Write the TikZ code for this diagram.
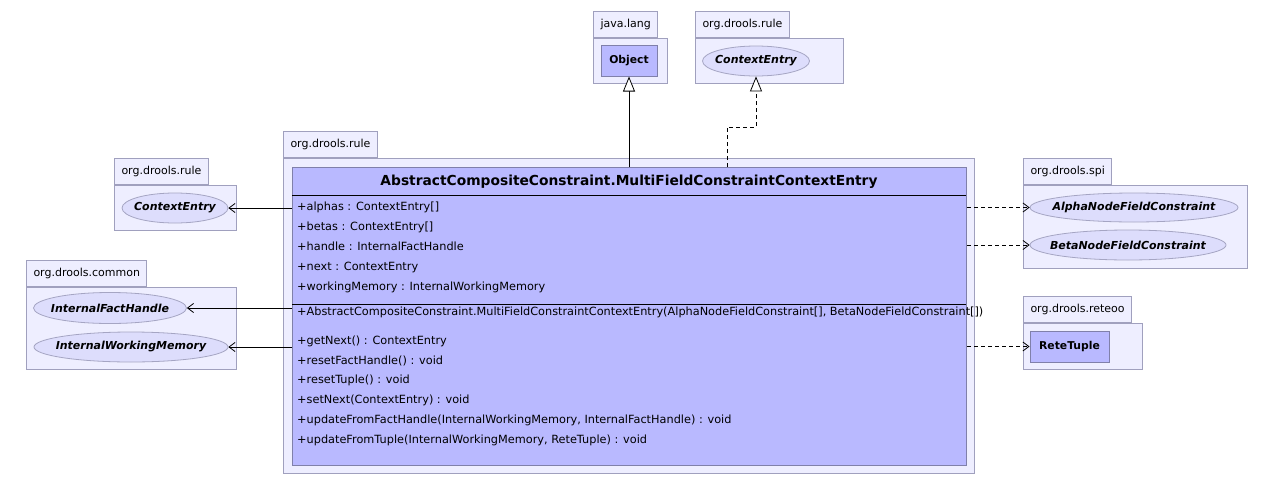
\documentclass[tikz,border=0pt]{standalone}
\usepackage{fontspec}
\setmainfont{DejaVu Sans}
\usetikzlibrary{arrows.meta,shapes.geometric}
\definecolor{pkgfill}{RGB}{238,238,255}
\definecolor{pkgdraw}{RGB}{160,160,190}
\definecolor{clsfill}{RGB}{185,185,255}
\definecolor{clsdraw}{RGB}{128,128,170}
\definecolor{ellfill}{RGB}{221,221,252}
\definecolor{elldraw}{RGB}{165,165,195}
\begin{document}
\begin{tikzpicture}[x=1pt,y=-1pt,
  pkgbody/.style={draw=pkgdraw, fill=pkgfill, line width=1pt, anchor=north west, inner sep=0pt},
  pkgtab/.style={draw=pkgdraw, fill=pkgfill, line width=1pt, anchor=south west, inner xsep=7pt, inner ysep=0pt,
    minimum height=26pt, text height=8pt, text depth=2.5pt, font=\fontsize{11}{13}\selectfont},
  clsbox/.style={draw=clsdraw, fill=clsfill, line width=1pt, anchor=north west, inner sep=0pt},
  smallcls/.style={draw=clsdraw, fill=clsfill, line width=1pt, inner sep=0pt, font=\fontsize{10.8}{12}\bfseries\selectfont},
  ellnode/.style={ellipse, draw=elldraw, fill=ellfill, line width=0.8pt, inner xsep=-30pt, inner ysep=0pt,
    minimum height=30pt, font=\fontsize{11}{12}\bfseries\itshape\selectfont},
  member/.style={anchor=west, inner sep=0pt, text height=8pt, text depth=2.5pt, font=\fontsize{11.3}{13}\selectfont},
  nav/.style={line width=0.8pt, -{Straight Barb[length=6pt, width=9pt, line width=0.8pt]}},
  dep/.style={nav, dash pattern=on 4pt off 3pt},
  gen/.style={line width=0.8pt, -{Triangle[open, length=15pt, width=12pt, fill=white, line width=0.8pt]}},
  real/.style={gen, dash pattern=on 4pt off 3pt}
]
\useasboundingbox[fill=white] (0,0) rectangle (1275,485);

% packages
\node[pkgbody, minimum width=74pt, minimum height=45pt] (p1) at (593,38) {};
\node[pkgtab] (t1) at (593,38) {java.lang};
\node[pkgbody, minimum width=148pt, minimum height=45pt] (p2) at (695,38) {};
\node[pkgtab] (t2) at (695,38) {org.drools.rule};
\node[pkgbody, minimum width=691pt, minimum height=315pt] (p3) at (283,158) {};
\node[pkgtab] (t3) at (283,158) {org.drools.rule};
\node[pkgbody, minimum width=122pt, minimum height=45pt] (p4) at (114,185) {};
\node[pkgtab] (t4) at (114,185) {org.drools.rule};
\node[pkgbody, minimum width=210pt, minimum height=82pt] (p5) at (26,287) {};
\node[pkgtab] (t5) at (26,287) {org.drools.common};
\node[pkgbody, minimum width=224pt, minimum height=83pt] (p6) at (1023,185) {};
\node[pkgtab] (t6) at (1023,185) {org.drools.spi};
\node[pkgbody, minimum width=119pt, minimum height=46pt] (p7) at (1023,323) {};
\node[pkgtab] (t7) at (1023,323) {org.drools.reteoo};

% classifiers
\node[smallcls, minimum width=56pt, minimum height=31pt] (obj) at (629,60.5) {Object};
\node[ellnode, minimum width=107pt] (ce1) at (756,61) {ContextEntry};
\node[ellnode, minimum width=106pt] (ce2) at (175,208) {ContextEntry};
\node[ellnode, minimum width=153pt, minimum height=31pt] (ifh) at (110,308) {InternalFactHandle};
\node[ellnode, minimum width=194pt] (iwm) at (131,347) {InternalWorkingMemory};
\node[ellnode, minimum width=208pt, minimum height=29pt] (alpha) at (1134,207.5) {AlphaNodeFieldConstraint};
\node[ellnode, minimum width=196pt] (beta) at (1128,245) {BetaNodeFieldConstraint};
\node[smallcls, minimum width=79pt, minimum height=31pt] (rete) at (1069.5,346.5) {ReteTuple};

% main class
\node[clsbox, minimum width=674pt, minimum height=298pt] (cls) at (292,167) {};
\node[font=\fontsize{13.8}{16}\bfseries\selectfont, inner sep=0pt] (title) at (629,182) {AbstractCompositeConstraint.MultiFieldConstraintContextEntry};
\draw[line width=0.8pt] (292,195) -- (966,195);
\draw[line width=0.8pt] (292,304) -- (966,304);
\node[member] (a1) at (297,208) {+alphas : ContextEntry[]};
\node[member] (a2) at (297,228) {+betas : ContextEntry[]};
\node[member] (a3) at (297,248) {+handle : InternalFactHandle};
\node[member] (a4) at (297,268) {+next : ContextEntry};
\node[member] (a5) at (297,288) {+workingMemory : InternalWorkingMemory};
\node[member] (m0) at (297,313) {+AbstractCompositeConstraint.MultiFieldConstraintContextEntry(AlphaNodeFieldConstraint[], BetaNodeFieldConstraint[])};
\node[member] (m1) at (297,342) {+getNext() : ContextEntry};
\node[member] (m2) at (297,361.5) {+resetFactHandle() : void};
\node[member] (m3) at (297,381) {+resetTuple() : void};
\node[member] (m4) at (297,400.5) {+setNext(ContextEntry) : void};
\node[member] (m5) at (297,420.5) {+updateFromFactHandle(InternalWorkingMemory, InternalFactHandle) : void};
\node[member] (m6) at (297,440.5) {+updateFromTuple(InternalWorkingMemory, ReteTuple) : void};

% connectors
\draw[gen] (obj |- cls.north) -- (obj.south);
\coordinate (bend) at (727,127);
\draw[real] (bend |- cls.north) -- (bend) -| (ce1.south);
\draw[nav] (cls.west |- ce2) -- (ce2.east);
\draw[nav] (cls.west |- ifh) -- (ifh.east);
\draw[nav] (cls.west |- iwm) -- (iwm.east);
\draw[dep] (cls.east |- alpha) -- (alpha.west);
\draw[dep] (cls.east |- beta) -- (beta.west);
\draw[dep] (cls.east |- rete) -- (rete.west);
\end{tikzpicture}
\end{document}
